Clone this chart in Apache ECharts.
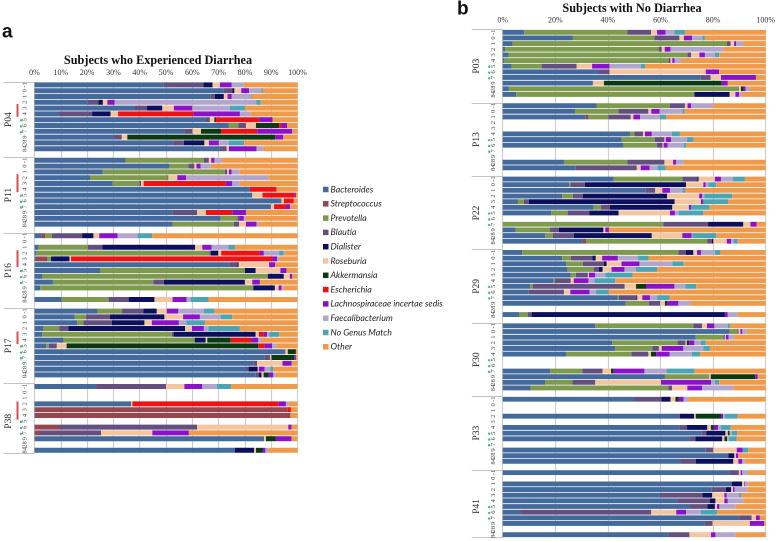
<!DOCTYPE html>
<html><head><meta charset="utf-8">
<style>html,body{margin:0;padding:0;background:#fff;overflow:hidden}#c{width:778px;height:541px}</style>
<script src="https://cdn.jsdelivr.net/npm/echarts@6/dist/echarts.min.js"></script>
</head><body><div id="c"></div>
<script>
const genera=['Bacteroides','Streptococcus','Prevotella','Blautia','Dialister','Roseburia','Akkermansia','Escherichia','Lachnospiraceae incertae sedis','Faecalibacterium','No Genus Match','Other'];
const palette=['#44699b','#95474f','#7e9a4e','#64507f','#0b0f5c','#f3c6a0','#0b3a12','#ee1212','#8b12c9','#b3a6cc','#4ba5b2','#f09a4b'];
const dayLabels=['-1','0','1','2','3','4','5','6','7','9','28','84'];
const subjectsA=['P04','P11','P16','P17','P38'];
const subjectsB=['P03','P13','P22','P29','P30','P33','P41'];
const N=null;
// each row: Bac Str Pre Bla Dia Ros Akk Esc Lac Fae Nog Oth (percent)
const P04=[
[49,0,0,15.2,3.5,2.8,0,0,4.5,4.6,0,20.4],
[72,0,0,3.2,.8,2.6,0,0,3,4.7,.4,13.3],
[67,0,0,1.6,3.4,1.4,0,0,1.6,7.2,.3,17.5],
[20.3,0,0,4,1.7,1.7,0,0,2.8,53.9,1.6,14],
[38.2,0,0,4.6,5.8,4.4,0,0,7,14.3,5.7,20],
[9.5,0,0,12.4,7,2.9,0,28.6,17.7,4.1,0,17.8],
[65.2,0,0,1.5,0,1.7,.6,16.4,5.1,0,0,9.5],
[73.9,0,3.6,2.9,0,3.8,8.8,.9,2.2,0,0,3.9],
[57,0,0,3.1,0,3.2,7.6,13.8,13.3,0,0,2],
[30.4,0,0,2.8,0,2.1,56.2,0,3.1,0,0,5.4],
[52.8,0,0,4,7.8,1.7,0,0,3.8,3.8,5.8,20.3],
[70.5,0,0,2.5,0,.9,0,0,10.5,2.6,0,13]];
const P11=[
[34.6,0,29.8,1.9,0,.9,0,0,1.2,2.9,0,28.7],
[51.3,0,7.2,2.3,0,.8,0,0,1.6,3.8,0,33],
[25.9,0,46.5,.9,0,.6,0,0,1,3.2,0,21.9],
[21.1,0,29.4,.4,0,3.4,0,0,3.3,31.3,0,11.1],
[29.7,0,10.2,.6,0,1,0,31.2,2.5,2.9,0,21.9],
[81.9,0,0,0,0,0,0,10.1,0,0,0,8],
[82.8,0,0,0,0,3.9,0,12.2,.5,0,0,.6],
[93.9,0,0,0,0,.9,0,3.8,0,0,0,1.4],
[89.9,0,0,0,0,1.2,0,4.5,1.6,0,0,2.8],
[52.4,0,0,9.4,0,3.4,0,10,5.2,0,0,19.6],
[70.8,0,6.4,.6,0,0,0,0,1.8,.8,0,19.6],
[52.5,0,23.3,2,0,2.6,0,0,4,.8,0,14.8]];
const P16=[
[2.8,1.3,2.5,11.5,4.3,2.2,0,0,7,7.6,5.5,55.3],
N,
[1.5,0,18.8,5.5,35.3,2.7,0,0,3.5,6.4,2.5,23.8],
[.6,0,65.9,.6,2.8,1.1,0,14.7,1.5,5.8,1.8,5.2],
[.4,4.5,1.4,0,7,.6,0,76.6,1.8,.7,0,7],
[74.3,0,0,2.8,.5,11.6,0,0,2.3,0,0,8.5],
[24.9,0,55.1,0,4.1,9.4,0,0,2.3,0,0,4.2],
[3,0,85.7,0,6.1,2.3,0,0,.9,0,0,2],
[7,0,38.2,4,30.8,2.8,0,0,2.9,0,0,14.3],
[2.2,0,81,0,8.2,1.4,0,0,1.1,.7,0,5.4],
N,
[10.3,0,17.9,7.6,9.8,6.9,0,0,5.3,1.7,6.7,33.8]];
const P17=[
[24,0,9.3,8.1,5.1,3.8,0,0,4.4,9.7,4,31.6],
[15.2,0,4.4,9.1,20.7,7.1,0,0,6.4,7.9,4.4,24.8],
[16.3,0,2.3,10.8,12.4,2.8,0,0,10.3,2.9,7,35.2],
[3.5,0,6,3.4,44.4,2.6,0,0,4.5,1.7,12,21.9],
[2.9,0,49.3,.7,31.2,1.2,0,1.9,1.3,.7,3.8,7],
[11,0,49.9,0,4.2,.6,8.9,7.9,2.6,1.2,0,13.7],
[4.4,0,1,3.1,0,3.7,72.9,2.5,2.7,1.6,0,8.1],
[95.2,0,0,.2,0,.9,3.1,0,0,0,0,.6],
[87.6,0,0,2,0,.5,8.6,0,.7,0,0,.6],
[83.2,0,0,1.4,0,9.7,0,0,3.5,0,0,2.2],
[80.6,0,0,.8,3.5,.4,0,0,2.2,2.2,1.1,9.2],
[84.1,0,0,1.2,1,.8,1.9,0,1.8,1,0,8.2]];
const P38=[
[23.4,0,0,26.6,0,7,0,0,6.8,5.6,5.3,25.3],
N,
N,
[36.7,0,0,0,0,.5,0,55.5,2.9,1.1,0,3.3],
[.2,95.9,0,0,0,0,0,1.4,0,0,0,2.5],
[.2,97.1,0,0,0,0,0,0,0,0,0,2.7],
N,
[0,9.5,0,52.3,0,34.7,0,0,1.2,0,0,2.3],
[0,1.9,0,23.4,0,19.5,0,0,13.9,0,0,41.3],
[87.3,0,0,0,0,.7,3.8,0,5.9,0,0,2.3],
N,
[76.2,0,0,0,7.3,.7,2.5,0,1.1,1.1,0,11.1]];
const P03=[
[8.2,0,39.2,9,0,2.3,0,0,3.2,3.4,4,30.7],
[26.7,0,31,9.5,0,1.7,0,0,3.1,3.9,1,23.1],
[3.7,0,81.5,1.5,0,1.3,0,0,.8,2.6,0,8.6],
[.9,0,58.4,1.2,0,1.1,0,0,2.2,20.1,0,16.1],
[2.2,0,68.1,1.4,0,3.1,0,0,2.1,3.8,1.6,17.7],
[.5,0,62.6,.7,0,.7,0,0,.9,2.4,0,32.2],
[3.4,0,11.4,13.3,0,5.9,0,0,6.6,12,1.5,45.9],
[36.4,0,0,4.2,0,36.6,0,0,5.1,0,0,17.7],
[75.3,0,0,3.8,0,3.9,0,0,13.3,0,0,3.7],
[34.3,0,0,0,0,4.2,44.8,0,2.3,0,0,14.4],
[2.2,0,87.7,0,0,.7,1,0,.8,1.4,0,6.2],
[5.1,0,67.8,0,13.4,2.2,0,0,1.4,1,0,9.1]];
const P13=[
[35.7,0,27.9,5.7,0,1,0,0,1.3,8.5,0,19.9],
[27.5,0,16.5,11.4,0,1.1,0,0,3.2,8.6,.8,30.9],
[31.6,1,7.6,8.5,0,1,0,0,2.6,7.5,2.3,37.9],
N,
N,
[48.4,0,1.7,3.3,0,.7,0,0,2.6,7.6,3.1,32.6],
[45.2,0,12.7,3.6,0,.5,0,0,2,6.1,2.5,27.4],
[45.9,0,12.7,2.2,0,.4,0,0,1.5,6.1,1,30.2],
N,
N,
[23.3,0,24.1,14.1,0,3.3,0,0,1.1,3,0,31.1],
[27.8,0,0,23.2,0,1.5,0,0,3.4,2.9,3.1,38.1]];
const P22=[
[42.2,0,26.2,5.6,.5,6.2,0,0,2.3,4.6,4.5,7.9],
[25.3,0,.5,5.5,38.4,6.6,0,0,.9,1,3,18.8],
[54.4,0,0,3.6,0,2.7,0,0,2.9,4.8,.9,30.7],
[22.6,0,4.1,3.8,32,12.2,0,0,1.2,.8,10.6,12.7],
[5.8,0,2.3,1.8,55.5,10,0,0,.9,0,9.5,14.2],
[34.6,0,2.8,3.4,23.7,6.3,0,0,.8,0,7,21.4],
[18.4,0,6.3,8.3,11.1,19.5,0,0,1.9,1.4,9.4,23.7],
N,
[0,0,61.1,17,13.4,2.7,0,0,2.4,0,0,3.4],
[4.9,0,13.1,3.4,16.9,.7,0,0,1.4,0,0,59.6],
[16.2,0,2.8,8,29.7,11.6,0,0,3.6,.3,9,18.8],
[30.5,1.3,46,1.7,.6,5.1,0,0,1.7,.9,1.6,10.6]];
const P29=[
[7.4,0,59.4,2.8,2.9,1.4,0,0,1.5,5.3,2.1,17.2],
[22.6,0,3.3,8.2,1.3,2.4,0,0,6,7.7,4,44.5],
[24.2,0,6.3,8,1,5.7,0,0,6.8,12.5,4.3,31.2],
[24.7,0,9.9,2,1.4,3.4,0,0,4.9,4.4,8,41.3],
[25.9,0,1.9,4.2,.3,.5,0,0,2.4,3.8,10.4,50.6],
[19.4,0,.5,6,0,1.1,0,0,5.6,2.3,7.9,57.2],
[10.5,0,.9,35,0,4.3,3.8,0,10.8,4.2,4.1,26.4],
[9.9,0,0,12.9,.4,2.5,0,0,7.3,2.5,4.8,59.7],
[43.7,0,.5,6.7,.3,1.9,0,0,2.9,2.7,4.7,36.6],
[46.8,0,8.8,4.3,0,1.8,.8,0,4.3,4.6,0,28.6],
N,
[6.2,0,3.3,1.5,73.5,0,0,0,1.1,3.8,0,10.6]];
const P30=[
[35.2,0,37.3,3.3,0,1.9,0,0,2.8,5.1,.8,13.6],
[86.3,0,2.9,.5,0,.7,0,0,.7,1.7,0,7.2],
[73.4,0,10.5,.6,0,.4,0,0,1,2.2,0,11.9],
[41.6,0,24.9,3,0,.5,.9,0,2,2.5,1.8,22.8],
[42.7,0,14.2,2.5,0,1.1,.3,0,7.9,7.6,2.5,21.2],
[24.2,0,24.8,6.4,0,1,2,0,5.1,8.4,3.1,25],
N,
N,
[18,0,12.3,7.7,0,3.2,1,0,11.7,8.5,10.5,27.1],
[61.7,0,16.8,0,0,.6,16.9,0,1,0,0,3],
[16.1,0,10.4,8.7,0,25,0,0,19.1,1.4,1.6,17.7],
[10.6,0,52.4,1.4,0,5.8,0,0,5.6,11.9,0,12.3]];
const P33=[
[50.3,0,0,10,3.5,1.9,1.3,0,1.8,1.7,0,29.5],
N,
N,
[66.7,0,0,.7,5.4,.6,9.6,0,.8,.6,5,10.6],
N,
[67.2,0,0,2.9,7.7,1.4,1.1,0,1.6,1.1,3.7,13.3],
[75.7,0,0,1.7,7.3,.9,.7,0,0,.8,2.1,10.8],
[71,0,0,2.3,10.2,.8,1,0,0,.8,2.9,11],
N,
[77.2,0,0,2.9,0,8.9,0,0,2.3,0,2.1,6.6],
[85.8,0,0,0,2.3,.6,0,0,.8,0,0,10.5],
[67.6,0,0,5.8,14.3,1.9,0,0,1.4,1.1,0,7.9]];
const P41=[
[86.4,0,0,3,.3,.8,0,0,.6,2.2,0,6.7],
N,
[87.1,0,0,0,3.9,.8,0,0,.3,1.3,0,6.6],
[79.5,0,0,5.4,2,.7,0,0,.6,4.8,0,7],
[59.8,0,0,16.2,3.7,4.6,0,0,.9,4.7,.7,9.4],
[66.5,0,0,12.2,2.2,3.4,0,0,1.3,6,0,8.4],
[71.2,0,0,6.7,2.8,.8,0,0,.9,6.2,0,11.4],
[6.6,0,0,49.9,0,9.5,0,0,3.7,5.7,6.1,18.5],
[89.9,0,0,4.8,0,1.6,0,0,1.5,0,0,2.2],
[76.9,0,0,2.9,0,14.2,0,0,5.4,0,0,.6],
N,
[63,0,0,8,0,8.2,0,0,1.7,7.7,0,11.4]];
const groupsA=[P04,P11,P16,P17,P38];
const groupsB=[P03,P13,P22,P29,P30,P33,P41];
// annotation positions, in rows from the start of each subject's block
const dotRows=[6.6,7.65,8.65];
const redBarsA=[[3.8,6],[2.9,6],[3,5.9],[4,6.2],[3.1,6.2]];

function flatten(groups){const r=[],l=[];groups.forEach((g,i)=>{g.forEach((x,j)=>{r.push(x);l.push(dayLabels[j]);});if(i<groups.length-1){r.push(N);l.push('');}});return{r,l};}
const A=flatten(groupsA),B=flatten(groupsB);
const GROUP=13;
const serif='"Liberation Serif",serif';
const gridLine='#cfcfcf';

function yAxes(grid,labels,subjects){
  const total=labels.length;
  const ticks=subjects.map((_,i)=>i*GROUP).concat([total]);
  const centers=subjects.map((_,i)=>i*GROUP+6.5);
  return [
   {type:'category',gridIndex:grid,inverse:true,data:labels,position:'left',
    axisLine:{show:true,lineStyle:{color:gridLine,width:1}},axisTick:{show:false},
    axisLabel:{interval:0,rotate:90,fontSize:6.5,fontFamily:serif,color:'#444',margin:6,hideOverlap:false}},
   {type:'value',gridIndex:grid,inverse:true,min:0,max:total,interval:GROUP,position:'left',splitLine:{show:false},
    axisLine:{show:false},
    axisTick:{show:true,customValues:ticks,length:31,lineStyle:{color:'#c4c4c4',width:1}},
    axisLabel:{show:true,customValues:centers,rotate:90,margin:21,fontSize:9.5,fontFamily:serif,color:'#222',
      formatter:v=>subjects[Math.round((v-6.5)/GROUP)]||''}}
  ];
}
function xAxis(grid,step){return {type:'value',gridIndex:grid,position:'top',min:0,max:100,interval:step,
  axisLine:{show:false},axisTick:{show:false},
  axisLabel:{formatter:'{value}%',fontSize:8,fontFamily:serif,color:'#333',margin:5},
  splitLine:{show:true,lineStyle:{color:gridLine,width:1.2}}};}

function barSeries(rows,xi,yi,stack){
  return genera.map((g,k)=>({type:'bar',name:g,stack,xAxisIndex:xi,yAxisIndex:yi,barWidth:'86%',
    itemStyle:{color:palette[k]},data:rows.map(r=>r?r[k]:null),z:3}));
}
function dotSeries(count,xi,yi){
  const d=[];for(let i=0;i<count;i++)dotRows.forEach(r=>d.push([0,i*GROUP+r]));
  return {type:'scatter',xAxisIndex:xi,yAxisIndex:yi,clip:false,symbol:'circle',symbolSize:2.4,symbolOffset:[-13.5,0],
    itemStyle:{color:'#1fa05a'},data:d,z:5};
}
function redSeries(bars,xi,yi,pitch){
  return {type:'scatter',xAxisIndex:xi,yAxisIndex:yi,clip:false,symbol:'rect',
    symbolSize:v=>[2,v[2]*pitch],symbolOffset:[-17,0],itemStyle:{color:'#c8242a'},
    data:bars.map((b,i)=>[0,i*GROUP+(b[0]+b[1])/2,b[1]-b[0]]),z:5};
}
const pitchA=5.8,pitchB=5.645;
const letter={fontSize:19,fontWeight:'bold',fontFamily:'"Liberation Sans",sans-serif',color:'#111'};
const heading={fontSize:12.25,fontWeight:'bold',fontFamily:serif,color:'#111'};
const option={
 animation:false,backgroundColor:'#fff',
 title:[
  {text:'a',left:2,top:23,padding:0,textStyle:letter},
  {text:'b',left:457,top:0,padding:0,textStyle:letter},
  {text:'Subjects who Experienced Diarrhea',left:158,top:55,padding:0,textAlign:'center',textStyle:heading},
  {text:'Subjects with No Diarrhea',left:632,top:3,padding:0,textAlign:'center',textStyle:heading}
 ],
 legend:{orient:'vertical',left:318,top:179,itemWidth:5.5,itemHeight:5.5,itemGap:3.3,icon:'rect',
   data:genera,selectedMode:false,
   textStyle:{fontSize:8.8,fontStyle:'italic',fontFamily:'Lato',color:'#222',padding:[0,0,0,-3],lineHeight:11}},
 grid:[
  {left:34.5,top:82,width:263,height:A.l.length*pitchA},
  {left:502.7,top:29.5,width:263,height:B.l.length*pitchB}
 ],
 xAxis:[xAxis(0,10),xAxis(1,20)],
 yAxis:[...yAxes(0,A.l,subjectsA),...yAxes(1,B.l,subjectsB)],
 series:[
  ...barSeries(A.r,0,0,'a'),...barSeries(B.r,1,2,'b'),
  dotSeries(subjectsA.length,0,1),dotSeries(subjectsB.length,1,3),
  redSeries(redBarsA,0,1,pitchA)
 ]
};
echarts.init(document.getElementById('c'),null,{renderer:'canvas',devicePixelRatio:2}).setOption(option);
</script></body></html>
